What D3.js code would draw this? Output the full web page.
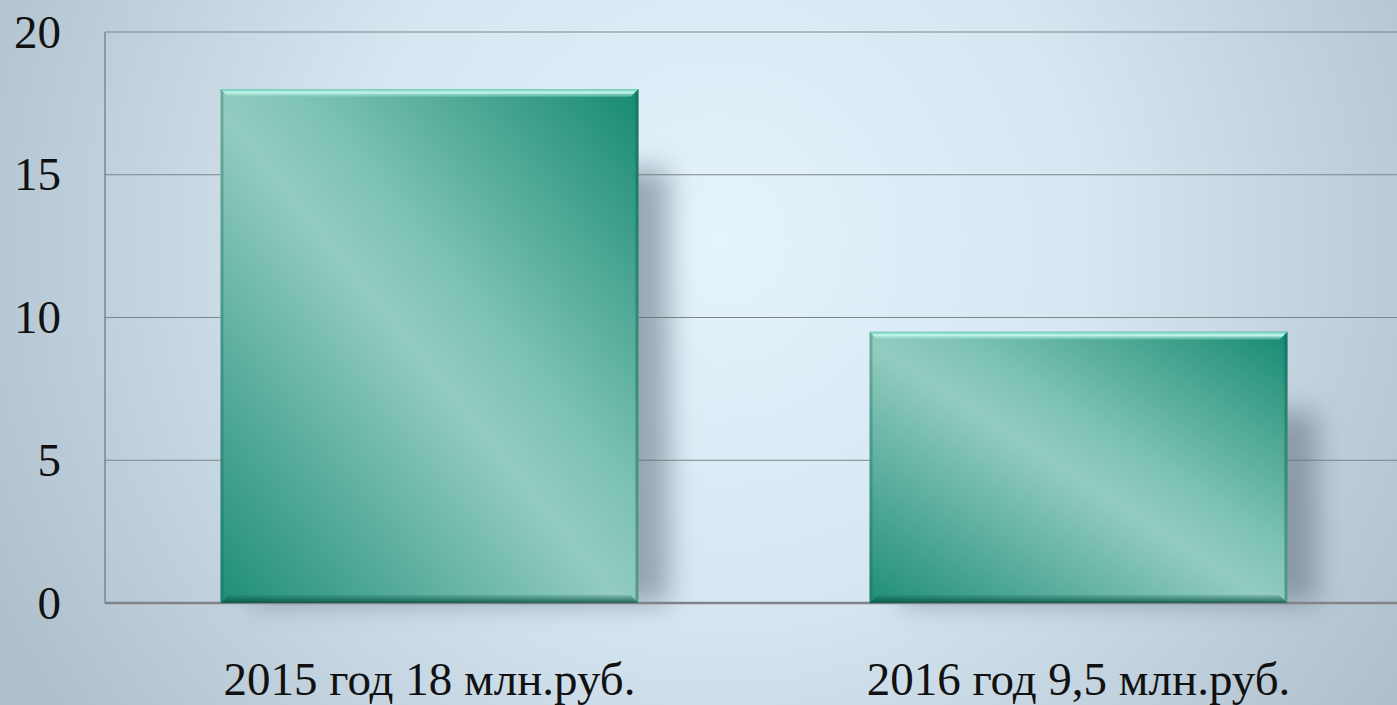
<!DOCTYPE html>
<html>
<head>
<meta charset="utf-8">
<script src="https://cdn.jsdelivr.net/npm/d3@7"></script>
<style>
  html, body { margin: 0; padding: 0; overflow: hidden; }
  svg { display: block; }
</style>
</head>
<body>
<svg id="chart"></svg>
<script>
// chart data
const categories = ["2015 год 18 млн.руб.", "2016 год 9,5 млн.руб."];
const values = [18, 9.5];
const yTicks = [0, 5, 10, 15, 20];

const W = 1397, H = 705;
const plotLeft = 105, plotTop = 32, plotBottom = 603;

const svg = d3.select("#chart").attr("width", W).attr("height", H);
const defs = svg.append("defs");

// background radial gradient
const bg = defs.append("radialGradient").attr("id", "bg")
  .attr("gradientUnits", "userSpaceOnUse")
  .attr("cx", 720).attr("cy", 240).attr("r", 820);
bg.append("stop").attr("offset", "0%").attr("stop-color", "#e4f3fc");
bg.append("stop").attr("offset", "45%").attr("stop-color", "#d6e7f2");
bg.append("stop").attr("offset", "100%").attr("stop-color", "#aebfcc");

// bar face: dark -> light -> dark along bottom-left to top-right
const face = defs.append("linearGradient").attr("id", "face")
  .attr("x1", "0").attr("y1", "1").attr("x2", "1").attr("y2", "0");
face.append("stop").attr("offset", "0%").attr("stop-color", "#1f8e78");
face.append("stop").attr("offset", "48%").attr("stop-color", "#93ccc0");
face.append("stop").attr("offset", "60%").attr("stop-color", "#7cc2b2");
face.append("stop").attr("offset", "100%").attr("stop-color", "#178a72");

const topBevel = defs.append("linearGradient").attr("id", "topBevel")
  .attr("x1", 0).attr("y1", 0).attr("x2", 0).attr("y2", 1);
topBevel.append("stop").attr("offset", "0%").attr("stop-color", "#6fcab6");
topBevel.append("stop").attr("offset", "45%").attr("stop-color", "#c4f7ec");
topBevel.append("stop").attr("offset", "100%").attr("stop-color", "#80cdbb").attr("stop-opacity", 0.3);

const botBevel = defs.append("linearGradient").attr("id", "botBevel")
  .attr("x1", 0).attr("y1", 0).attr("x2", 0).attr("y2", 1);
botBevel.append("stop").attr("offset", "0%").attr("stop-color", "#0c5d4d").attr("stop-opacity", 0.15);
botBevel.append("stop").attr("offset", "100%").attr("stop-color", "#0c4f42").attr("stop-opacity", 0.85);

const blur = defs.append("filter").attr("id", "shadow")
  .attr("x", "-30%").attr("y", "-30%").attr("width", "160%").attr("height", "160%");
blur.append("feGaussianBlur").attr("stdDeviation", 14);

svg.append("rect").attr("width", W).attr("height", H).attr("fill", "url(#bg)");

const x = d3.scaleBand().domain(categories).range([plotLeft, 1403])
  .paddingInner(0.356).paddingOuter(0.178);
const y = d3.scaleLinear().domain([0, 20]).range([plotBottom, plotTop]);

// gridlines
svg.append("g").selectAll("line").data(yTicks.filter(d => d > 0)).join("line")
  .attr("x1", plotLeft).attr("x2", W)
  .attr("y1", d => y(d)).attr("y2", d => y(d))
  .attr("stroke", "#7f8588").attr("stroke-width", 1.2);

svg.append("line").attr("x1", plotLeft).attr("x2", plotLeft)
  .attr("y1", y(20)).attr("y2", y(0))
  .attr("stroke", "#6f7579").attr("stroke-width", 1.2);

// shadows
svg.append("g").selectAll("rect").data(values).join("rect")
  .attr("x", (d, i) => x(categories[i]) + 30)
  .attr("y", d => y(d) + 80)
  .attr("width", x.bandwidth())
  .attr("height", d => y(0) - y(d) - 80)
  .attr("fill", "#5f6e7c").attr("opacity", 0.55)
  .attr("filter", "url(#shadow)");

// zero line
svg.append("line").attr("x1", plotLeft).attr("x2", W)
  .attr("y1", y(0)).attr("y2", y(0))
  .attr("stroke", "#808486").attr("stroke-width", 2.5);

const bars = svg.append("g").selectAll("g").data(values).join("g");

bars.append("rect")
  .attr("x", (d, i) => x(categories[i]))
  .attr("y", d => y(d))
  .attr("width", x.bandwidth())
  .attr("height", d => y(0) - y(d))
  .attr("fill", "url(#face)");

const bv = 8;
bars.append("polygon")
  .attr("points", (d, i) => {
    const x0 = x(categories[i]), x1 = x0 + x.bandwidth(), y0 = y(d);
    return [[x0, y0], [x1, y0], [x1 - bv, y0 + bv], [x0 + bv, y0 + bv]].join(" ");
  })
  .attr("fill", "url(#topBevel)");

bars.append("polygon")
  .attr("points", (d, i) => {
    const x0 = x(categories[i]), x1 = x0 + x.bandwidth(), y1 = y(0);
    return [[x0 + bv, y1 - bv], [x1 - bv, y1 - bv], [x1, y1], [x0, y1]].join(" ");
  })
  .attr("fill", "url(#botBevel)");

bars.append("polygon")
  .attr("points", (d, i) => {
    const x1 = x(categories[i]) + x.bandwidth();
    return [[x1 - 3, y(d) + 3], [x1, y(d)], [x1, y(0)], [x1 - 3, y(0) - 3]].join(" ");
  })
  .attr("fill", "#0e5f50").attr("opacity", 0.45);

bars.append("polygon")
  .attr("points", (d, i) => {
    const x0 = x(categories[i]);
    return [[x0, y(d)], [x0 + 3, y(d) + 3], [x0 + 3, y(0) - 3], [x0, y(0)]].join(" ");
  })
  .attr("fill", "#0e5f50").attr("opacity", 0.3);

// y axis labels
const yAxis = d3.axisLeft(y).tickValues(yTicks).tickSize(0).tickPadding(0);
svg.append("g").attr("transform", "translate(61,0)").call(yAxis)
  .call(g => g.select(".domain").remove())
  .selectAll("text")
  .attr("font-family", "'Liberation Serif', 'DejaVu Serif', serif")
  .attr("font-size", 47).attr("fill", "#111");

// category labels
const xAxis = d3.axisBottom(x).tickSize(0).tickPadding(0);
svg.append("g").attr("transform", "translate(0,662)").call(xAxis)
  .call(g => g.select(".domain").remove())
  .selectAll("text")
  .attr("font-family", "'Liberation Serif', 'DejaVu Serif', serif")
  .attr("font-size", 47).attr("fill", "#111");
</script>
</body>
</html>
